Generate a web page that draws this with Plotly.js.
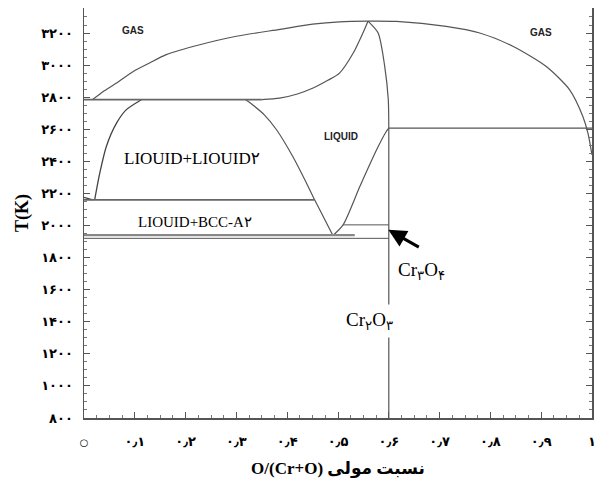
<!DOCTYPE html>
<html>
<head>
<meta charset="utf-8">
<script src="https://cdn.plot.ly/plotly-3.0.1.min.js"></script>
<style>html,body{margin:0;padding:0;background:#fff;}</style>
</head>
<body>
<div id="chart" style="width:595px;height:492px;"></div>
<script>
// ---- Data ----
const xTickVals = [0, 0.1, 0.2, 0.3, 0.4, 0.5, 0.6, 0.7, 0.8, 0.9, 1];
const xTickText = ["<span style='font-size:10px'>○</span>", "۰٫۱", "۰٫۲", "۰٫۳", "۰٫۴", "۰٫۵", "۰٫۶", "۰٫۷", "۰٫۸", "۰٫۹", "۱"];
const yTickVals = [800, 1000, 1200, 1400, 1600, 1800, 2000, 2200, 2400, 2600, 2800, 3000, 3200];
const yTickText = ["۸۰۰", "۱۰۰۰", "۱۲۰۰", "۱۴۰۰", "۱۶۰۰", "۱۸۰۰", "۲۰۰۰", "۲۲۰۰", "۲۴۰۰", "۲۶۰۰", "۲۸۰۰", "۳۰۰۰", "۳۲۰۰"];

// Gas boundary
const gasX = [0.017, 0.040, 0.064, 0.097, 0.129, 0.162, 0.228, 0.300, 0.386, 0.450, 0.503, 0.559, 0.615, 0.713, 0.779, 0.845, 0.910, 0.956, 0.982, 0.992, 1.000];
const gasT = [2785, 2840, 2888, 2960, 3013, 3065, 3127, 3180, 3223, 3255, 3270, 3274, 3272, 3241, 3200, 3116, 2991, 2846, 2680, 2576, 2440];

// Liquid upper-left boundary (from plateau to peak)
const liqLeftX = [0.350, 0.385, 0.420, 0.451, 0.480, 0.503, 0.530, 0.549, 0.559];
const liqLeftT = [2785, 2794, 2820, 2857, 2905, 2950, 3075, 3200, 3274];

// Liquid upper-right boundary (peak down to Cr2O3 line)
const liqRightX = [0.559, 0.579, 0.592, 0.599, 0.600];
const liqRightT = [3274, 3200, 2991, 2784, 2607];

// Miscibility dome (left branch)
const domeLX = [0.021, 0.031, 0.044, 0.064, 0.083, 0.113];
const domeLT = [2160, 2326, 2493, 2638, 2721, 2784];
const domeTailX = [0.000, 0.017];
const domeTailT = [2175, 2160];

// Dome right branch continuing into V left arm
const domeRX = [0.318, 0.335, 0.355, 0.379, 0.411, 0.438, 0.454, 0.490];
const domeRT = [2785, 2745, 2690, 2597, 2430, 2264, 2160, 1938];

// V right arm (liquidus of Cr2O3)
const vRightX = [0.490, 0.510, 0.543, 0.576, 0.595, 0.600];
const vRightT = [1938, 2004, 2243, 2472, 2586, 2607];

// Horizontal invariant lines
const monoX = [0, 0.350];          const monoT = [2785, 2785];
const mono2X = [0, 0.454];         const mono2T = [2160, 2160];
const eutX = [0, 0.533];           const eutT = [1940, 1940];
const eut2X = [0, 0.600];          const eut2T = [1920, 1920];
const cr3o4X = [0.510, 0.600];     const cr3o4T = [2004, 2004];
const perX = [0.600, 1.000];       const perT = [2607, 2607];
const cr2o3X = [0.600, 0.600];     const cr2o3T = [800, 2607];

// ---- Traces ----
const mk = (x, y, c, w, smooth) => ({
  x: x, y: y, type: 'scatter', mode: 'lines', hoverinfo: 'skip',
  line: smooth ? {color: c, width: w, shape: 'spline', smoothing: 0.7} : {color: c, width: w}
});

const traces = [
  mk(gasX, gasT, '#555', 1.2, true),
  mk(liqLeftX, liqLeftT, '#555', 1.2, true),
  mk(liqRightX, liqRightT, '#555', 1.2, true),
  mk(domeLX, domeLT, '#444', 1.3, true),
  mk(domeTailX, domeTailT, '#444', 1.3, false),
  mk(domeRX, domeRT, '#555', 1.2, true),
  mk(vRightX, vRightT, '#555', 1.2, true),
  mk(monoX, monoT, '#666', 1.6, false),
  mk(mono2X, mono2T, '#666', 1.6, false),
  mk(eutX, eutT, '#888', 2.4, false),
  mk(eut2X, eut2T, '#555', 1.0, false),
  mk(cr3o4X, cr3o4T, '#555', 1.0, false),
  mk(perX, perT, '#555', 1.2, false),
  mk(cr2o3X, cr2o3T, '#555', 1.2, false)
];

const serif = 'Liberation Serif, Times New Roman, DejaVu Serif, serif';
const narrow = 'Liberation Sans Narrow, Arial Narrow, Liberation Sans, sans-serif';

const layout = {
  width: 595, height: 492,
  margin: {l: 84, r: 3, t: 8, b: 74},
  paper_bgcolor: '#fff', plot_bgcolor: '#fff',
  showlegend: false,
  xaxis: {
    range: [0, 1], tickmode: 'array', tickvals: xTickVals, ticktext: xTickText,
    ticks: 'inside', ticklen: 6, tickwidth: 1, tickcolor: '#555',
    showline: true, linecolor: '#555', linewidth: 1.5,
    showgrid: false, zeroline: false, ticklabeloverflow: 'allow',
    minor: {dtick: 0.025, tick0: 0, ticks: 'inside', ticklen: 3, tickcolor: '#777', showgrid: false},
    tickfont: {family: 'DejaVu Sans', size: 13, color: '#000', weight: 'bold'},
    ticklabelstandoff: 11,
    title: {text: '<b>O/(Cr+O) نسبت مولی</b>', font: {family: serif + ', DejaVu Sans', size: 17, color: '#000'}, standoff: 14}
  },
  yaxis: {
    range: [800, 3356], tickmode: 'array', tickvals: yTickVals, ticktext: yTickText,
    ticks: 'inside', ticklen: 6, tickwidth: 1, tickcolor: '#555',
    showline: true, linecolor: '#555', linewidth: 1.5, mirror: 'ticks',
    showgrid: false, zeroline: false,
    minor: {dtick: 50, tick0: 800, ticks: 'inside', ticklen: 3, tickcolor: '#777', showgrid: false},
    tickfont: {family: 'DejaVu Sans', size: 13, color: '#000', weight: 'bold'},
    ticklabelstandoff: 7,
    title: {text: '<b>T(K)</b>', font: {family: serif, size: 18, color: '#000'}, standoff: 8}
  },
  annotations: [
    {x: 0.096, y: 3214, xref: 'x', yref: 'y', text: '<b>GAS</b>', showarrow: false, font: {family: narrow, size: 10, color: '#222'}},
    {x: 0.900, y: 3202, xref: 'x', yref: 'y', text: '<b>GAS</b>', showarrow: false, font: {family: narrow, size: 10, color: '#222'}},
    {x: 0.506, y: 2553, xref: 'x', yref: 'y', text: '<b>LIQUID</b>', showarrow: false, font: {family: narrow, size: 10, color: '#222'}},
    {x: 0.212, y: 2416, xref: 'x', yref: 'y', text: 'LIOUID+LIOUID۲', showarrow: false, font: {family: serif + ', DejaVu Sans', size: 17, color: '#000'}},
    {x: 0.218, y: 2023, xref: 'x', yref: 'y', text: 'LIOUID+BCC-A۲', showarrow: false, font: {family: serif + ', DejaVu Sans', size: 15, color: '#000'}},
    {x: 0.599, y: 1973, xref: 'x', yref: 'y', ax: 0.662, ay: 1860, axref: 'x', ayref: 'y', text: '', showarrow: true, arrowhead: 2, arrowsize: 1.2, arrowwidth: 3, arrowcolor: '#000'},
    {x: 0.665, y: 1717, xref: 'x', yref: 'y', text: 'Cr<sub>۳</sub>O<sub>۴</sub>', showarrow: false, font: {family: serif + ', DejaVu Sans', size: 19, color: '#000'}},
    {x: 0.562, y: 1405, xref: 'x', yref: 'y', text: 'Cr<sub>۲</sub>O<sub>۳</sub>', showarrow: false, bgcolor: '#fff', borderpad: 4, font: {family: serif + ', DejaVu Sans', size: 19, color: '#000'}}
  ]
};

Plotly.newPlot('chart', traces, layout, {displayModeBar: false, staticPlot: true});
</script>
</body>
</html>
